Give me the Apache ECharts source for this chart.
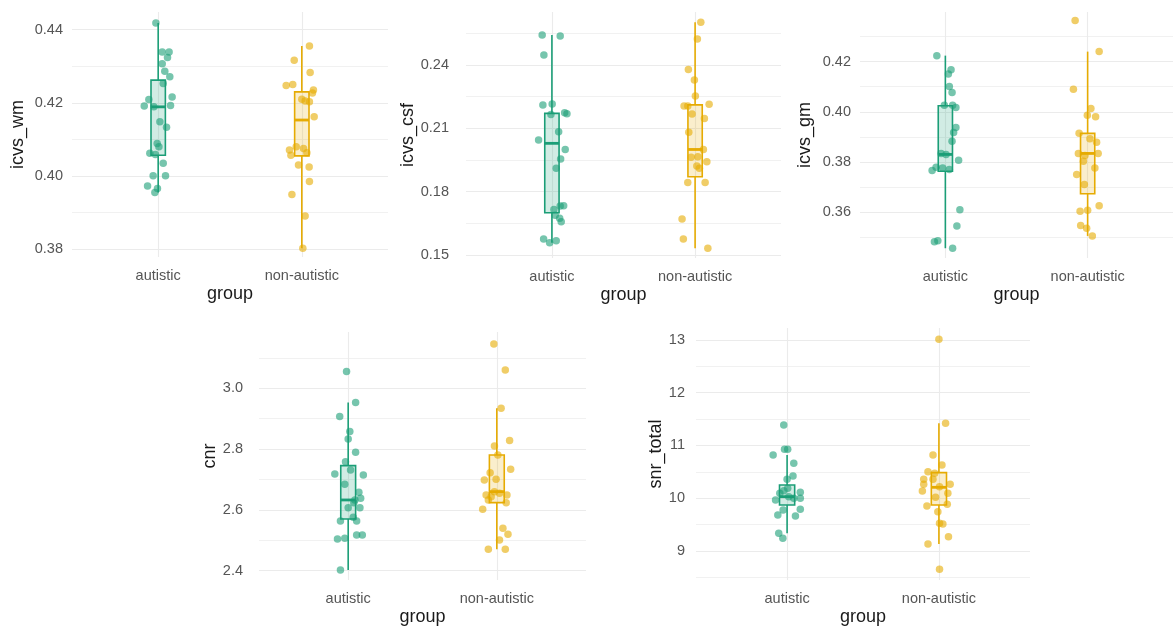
<!DOCTYPE html>
<html>
<head>
<meta charset="utf-8">
<title>QC metrics by group</title>
<script src="https://cdn.jsdelivr.net/npm/echarts@6/dist/echarts.min.js"></script>
<style>
  html, body { margin: 0; padding: 0; background: #ffffff; }
  #chart { width: 1173px; height: 635px; }
</style>
</head>
<body>
<div id="chart"></div>
<script>
// ---- data ----------------------------------------------------------------
const groups = ['autistic', 'non-autistic'];
const groupColors = ['#1b9e77', '#e6ab02'];

// Each subject point is [horizontal jitter (in group units), value].
const icvsWmAutistic = [
  [-0.016, 0.4418], [0.028, 0.4339], [0.076, 0.4339], [0.065, 0.4324], [0.028, 0.4307],
  [0.046, 0.4286], [0.081, 0.4271], [0.035, 0.4253], [0.097, 0.4216], [-0.065, 0.4209],
  [-0.097, 0.4191], [-0.030, 0.4189], [0.086, 0.4193], [0.012, 0.4148], [0.058, 0.4133],
  [-0.007, 0.4089], [0.005, 0.4080], [-0.058, 0.4062], [-0.019, 0.4059], [0.035, 0.4035],
  [-0.035, 0.4001], [0.051, 0.4001], [-0.074, 0.3973], [-0.005, 0.3966], [-0.023, 0.3955]
];
const icvsWmNonAutistic = [
  [0.053, 0.4355], [-0.053, 0.4316], [0.058, 0.4283], [-0.109, 0.4247], [-0.063, 0.4250],
  [0.081, 0.4235], [0.074, 0.4227], [0.000, 0.4210], [0.023, 0.4205], [0.053, 0.4203],
  [0.086, 0.4162], [-0.086, 0.4071], [-0.039, 0.4080], [0.012, 0.4075], [0.035, 0.4064],
  [-0.076, 0.4057], [-0.023, 0.4030], [0.051, 0.4025], [0.053, 0.3985], [-0.069, 0.3950],
  [0.023, 0.3891], [0.007, 0.3803]
];
const icvsCsfAutistic = [
  [-0.068, 0.2542], [0.058, 0.2537], [-0.056, 0.2447], [0.002, 0.2215], [-0.063, 0.2211],
  [-0.007, 0.2166], [0.089, 0.2174], [0.105, 0.2169], [-0.093, 0.2045], [0.047, 0.2084],
  [0.093, 0.2000], [0.061, 0.1955], [0.030, 0.1911], [0.014, 0.1716], [0.058, 0.1732],
  [0.082, 0.1734], [0.023, 0.1689], [0.054, 0.1674], [0.065, 0.1658], [-0.058, 0.1576],
  [-0.016, 0.1558], [0.030, 0.1568]
];
const icvsCsfNonAutistic = [
  [0.040, 0.2602], [0.016, 0.2523], [-0.047, 0.2379], [-0.005, 0.2329], [0.002, 0.2253],
  [-0.077, 0.2206], [-0.051, 0.2206], [0.098, 0.2214], [-0.021, 0.2168], [0.065, 0.2147],
  [-0.044, 0.2081], [0.058, 0.2000], [-0.028, 0.1963], [0.019, 0.1966], [0.082, 0.1942],
  [0.030, 0.1911], [0.012, 0.1922], [-0.051, 0.1843], [0.070, 0.1843], [-0.091, 0.1671],
  [-0.082, 0.1576], [0.089, 0.1532]
];
const icvsGmAutistic = [
  [-0.060, 0.4224], [0.040, 0.4168], [0.021, 0.4151], [0.028, 0.4101], [0.047, 0.4077],
  [-0.007, 0.4026], [0.051, 0.4026], [0.074, 0.4017], [0.074, 0.3937], [0.058, 0.3917],
  [0.047, 0.3883], [-0.030, 0.3834], [0.005, 0.3830], [0.093, 0.3807], [-0.093, 0.3766],
  [-0.065, 0.3779], [-0.019, 0.3776], [0.028, 0.3770], [0.102, 0.3609], [0.081, 0.3545],
  [-0.077, 0.3482], [-0.053, 0.3486], [0.051, 0.3456]
];
const icvsGmNonAutistic = [
  [-0.088, 0.4364], [0.081, 0.4240], [-0.100, 0.4090], [0.023, 0.4013], [-0.002, 0.3986],
  [0.056, 0.3980], [-0.060, 0.3914], [0.016, 0.3893], [0.063, 0.3879], [-0.065, 0.3834],
  [0.074, 0.3834], [-0.019, 0.3826], [-0.030, 0.3803], [0.051, 0.3776], [-0.077, 0.3750],
  [-0.023, 0.3710], [-0.053, 0.3603], [0.000, 0.3607], [0.081, 0.3625], [-0.049, 0.3547],
  [-0.007, 0.3536], [0.033, 0.3505]
];
const cnrAutistic = [
  [-0.011, 3.0548], [0.050, 2.9528], [-0.057, 2.9068], [0.011, 2.8574], [0.000, 2.8333],
  [0.050, 2.7894], [-0.018, 2.7587], [0.016, 2.7313], [-0.090, 2.7181], [0.102, 2.7148],
  [-0.023, 2.6841], [0.072, 2.6578], [0.084, 2.6380], [0.045, 2.6326], [0.038, 2.6238],
  [0.000, 2.6073], [0.079, 2.6073], [0.034, 2.5755], [-0.052, 2.5635], [0.057, 2.5635],
  [0.057, 2.5174], [0.095, 2.5174], [-0.072, 2.5042], [-0.023, 2.5064], [-0.052, 2.4022]
];
const cnrNonAutistic = [
  [-0.020, 3.1459], [0.057, 3.0603], [0.029, 2.9342], [0.086, 2.8278], [-0.016, 2.8102],
  [0.007, 2.7806], [0.093, 2.7335], [-0.045, 2.7225], [-0.084, 2.6984], [-0.005, 2.7006],
  [-0.072, 2.6490], [-0.038, 2.6435], [-0.016, 2.6600], [0.018, 2.6545], [0.068, 2.6490],
  [-0.057, 2.6326], [0.063, 2.6238], [-0.095, 2.6018], [0.041, 2.5393], [0.075, 2.5196],
  [0.018, 2.5009], [-0.057, 2.4702], [0.057, 2.4702]
];
const snrTotalAutistic = [
  [-0.022, 11.389], [-0.092, 10.820], [-0.017, 10.927], [0.004, 10.927], [0.044, 10.662],
  [0.039, 10.422], [0.000, 10.359], [0.004, 10.188], [-0.022, 10.144], [-0.048, 10.093],
  [0.087, 10.112], [-0.076, 9.967], [0.087, 9.998], [0.044, 9.998], [0.011, 10.030],
  [-0.026, 9.777], [0.087, 9.790], [-0.061, 9.682], [0.055, 9.663], [-0.055, 9.335],
  [-0.028, 9.240]
];
const snrTotalNonAutistic = [
  [0.000, 13.013], [0.044, 11.420], [-0.039, 10.820], [0.020, 10.630], [-0.072, 10.504],
  [-0.028, 10.472], [-0.100, 10.359], [-0.039, 10.359], [-0.100, 10.264], [0.074, 10.264],
  [-0.109, 10.137], [0.059, 10.093], [-0.022, 10.017], [0.004, 10.220], [-0.079, 9.853],
  [0.055, 9.885], [-0.007, 9.746], [0.004, 9.525], [0.026, 9.512], [0.063, 9.272],
  [-0.072, 9.133], [0.004, 8.652]
];

// Box summaries per group: [lower whisker, Q1, median, Q3, upper whisker]
const icvsWmBoxes   = [[0.3955, 0.4057, 0.4189, 0.4262, 0.4418], [0.3803, 0.4055, 0.4153, 0.4230, 0.4355]];
const icvsCsfBoxes  = [[0.1558, 0.1700, 0.2029, 0.2171, 0.2542], [0.1532, 0.1871, 0.2000, 0.2211, 0.2602]];
const icvsGmBoxes   = [[0.3456, 0.3763, 0.3830, 0.4024, 0.4224], [0.3505, 0.3673, 0.3834, 0.3914, 0.4240]];
const cnrBoxes      = [[2.4022, 2.5700, 2.6326, 2.7455, 2.9528], [2.4702, 2.6238, 2.6600, 2.7806, 2.9342]];
const snrTotalBoxes = [[9.335, 9.872, 10.030, 10.251, 10.820], [9.133, 9.872, 10.207, 10.485, 11.420]];

// ---- layout ---------------------------------------------------------------
const panels = [
  { title: 'icvs_wm',  points: [icvsWmAutistic, icvsWmNonAutistic],   boxes: icvsWmBoxes,
    yMin: 0.3779, yMax: 0.4448, step: 0.02, decimals: 2,
    rect: [72, 12, 316, 245], labelGap: 9, titleGap: 45 },
  { title: 'icvs_csf', points: [icvsCsfAutistic, icvsCsfNonAutistic], boxes: icvsCsfBoxes,
    yMin: 0.1486, yMax: 0.2651, step: 0.03, decimals: 2,
    rect: [466, 12, 315, 246], labelGap: 17, titleGap: 35 },
  { title: 'icvs_gm',  points: [icvsGmAutistic, icvsGmNonAutistic],   boxes: icvsGmBoxes,
    yMin: 0.3417, yMax: 0.4398, step: 0.02, decimals: 2,
    rect: [860, 12, 313, 246], labelGap: 9, titleGap: 46 },
  { title: 'cnr',      points: [cnrAutistic, cnrNonAutistic],         boxes: cnrBoxes,
    yMin: 2.3694, yMax: 3.185, step: 0.2, decimals: 1,
    rect: [259, 332, 327, 248], labelGap: 16, titleGap: 32 },
  { title: 'snr_total', points: [snrTotalAutistic, snrTotalNonAutistic], boxes: snrTotalBoxes,
    yMin: 8.450, yMax: 13.227, step: 1, decimals: 0,
    rect: [696, 328, 334, 252], labelGap: 11, titleGap: 28 }
];

const BOX_HALF_WIDTH = 0.05;
const FONT = '"Liberation Sans", Arial, sans-serif';
const TICK_COLOR = '#555555';
const TITLE_COLOR = '#1a1a1a';

function withAlpha(hex, a) {
  const n = parseInt(hex.slice(1), 16);
  return `rgba(${(n >> 16) & 255},${(n >> 8) & 255},${n & 255},${a})`;
}

function renderBox(params, api) {
  const g = api.value(0);
  const color = groupColors[g - 1];
  const lo = api.value(1), q1 = api.value(2), med = api.value(3), q3 = api.value(4), hi = api.value(5);
  const topLeft = api.coord([g - BOX_HALF_WIDTH, q3]);
  const bottomRight = api.coord([g + BOX_HALF_WIDTH, q1]);
  const hiPt = api.coord([g, hi]);
  const loPt = api.coord([g, lo]);
  const medL = api.coord([g - BOX_HALF_WIDTH, med]);
  const medR = api.coord([g + BOX_HALF_WIDTH, med]);
  const cx = hiPt[0];
  const lineStyle = { stroke: color, lineWidth: 1.6, fill: null };
  return {
    type: 'group',
    children: [
      { type: 'line', shape: { x1: cx, y1: hiPt[1], x2: cx, y2: topLeft[1] }, style: lineStyle },
      { type: 'line', shape: { x1: cx, y1: bottomRight[1], x2: cx, y2: loPt[1] }, style: lineStyle },
      { type: 'rect',
        shape: { x: topLeft[0], y: topLeft[1], width: bottomRight[0] - topLeft[0], height: bottomRight[1] - topLeft[1] },
        style: { fill: withAlpha(color, 0.2), stroke: color, lineWidth: 1.6 } },
      { type: 'line', shape: { x1: medL[0], y1: medL[1], x2: medR[0], y2: medR[1] },
        style: { stroke: color, lineWidth: 2.8 } }
    ]
  };
}

const option = {
  animation: false,
  backgroundColor: '#ffffff',
  textStyle: { fontFamily: FONT },
  grid: [], xAxis: [], yAxis: [], series: []
};

panels.forEach((p, i) => {
  option.grid.push({ left: p.rect[0], top: p.rect[1], width: p.rect[2], height: p.rect[3] });

  option.xAxis.push({
    type: 'value', gridIndex: i, min: 0.4, max: 2.6, minInterval: 1, maxInterval: 1,
    axisLine: { show: false }, axisTick: { show: false },
    axisLabel: {
      margin: 11, color: TICK_COLOR, fontSize: 14.5, fontFamily: FONT,
      showMinLabel: false, showMaxLabel: false,
      formatter: v => {
        const k = Math.round(v);
        return Math.abs(v - k) < 1e-6 && k >= 1 && k <= groups.length ? groups[k - 1] : '';
      }
    },
    splitLine: { show: true, showMinLine: false, showMaxLine: false, lineStyle: { color: '#ebebeb', width: 1.1 } },
    name: 'group', nameLocation: 'middle', nameGap: 28,
    nameTextStyle: { fontSize: 18, color: TITLE_COLOR, fontFamily: FONT }
  });

  option.yAxis.push({
    type: 'value', gridIndex: i, min: p.yMin, max: p.yMax, minInterval: p.step, maxInterval: p.step,
    axisLine: { show: false }, axisTick: { show: false },
    axisLabel: {
      margin: p.labelGap, color: TICK_COLOR, fontSize: 14.5, fontFamily: FONT,
      showMinLabel: false, showMaxLabel: false,
      formatter: v => v.toFixed(p.decimals)
    },
    splitLine: { show: true, showMinLine: false, showMaxLine: false, lineStyle: { color: '#ebebeb', width: 1.1 } },
    minorTick: { show: false, splitNumber: 2 },
    minorSplitLine: { show: true, lineStyle: { color: '#f1f1f1', width: 1 } },
    name: p.title, nameLocation: 'middle', nameGap: p.titleGap,
    nameTextStyle: { fontSize: 18, color: TITLE_COLOR, fontFamily: FONT }
  });

  option.series.push({
    type: 'custom', coordinateSystem: 'cartesian2d', xAxisIndex: i, yAxisIndex: i, z: 2,
    renderItem: renderBox, silent: true,
    encode: { x: 0, y: [1, 2, 3, 4, 5] },
    data: p.boxes.map((b, g) => [g + 1, ...b])
  });

  p.points.forEach((pts, g) => {
    option.series.push({
      type: 'scatter', xAxisIndex: i, yAxisIndex: i, z: 3,
      symbol: 'circle', symbolSize: 7.5,
      itemStyle: { color: groupColors[g], opacity: 0.6 },
      data: pts.map(([jit, v]) => [g + 1 + jit, v])
    });
  });
});

const chart = echarts.init(document.getElementById('chart'), null, { renderer: 'canvas' });
chart.setOption(option);
</script>
</body>
</html>
